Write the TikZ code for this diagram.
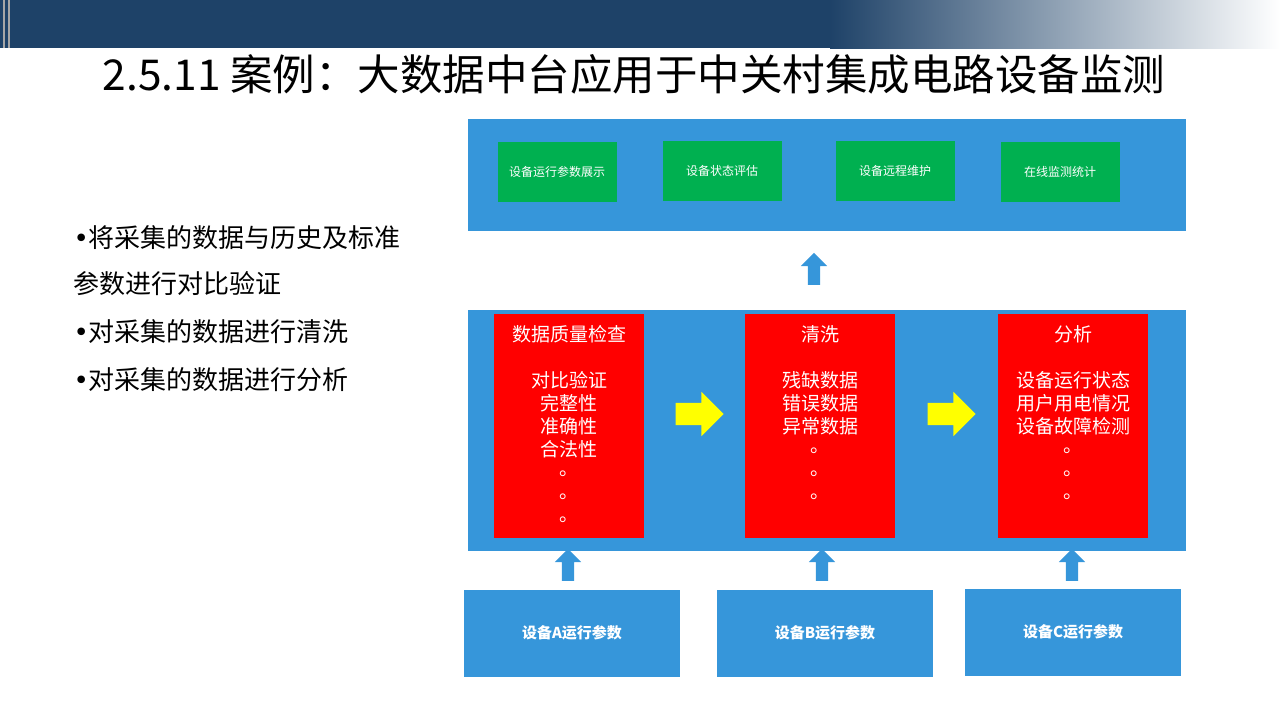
\documentclass[tikz,border=0pt]{standalone}
\usepackage{fontspec}
\setmainfont{Noto Sans CJK SC}
\newfontfamily\dotfont{DejaVu Sans}
\usetikzlibrary{shapes.arrows}
\definecolor{panelblue}{RGB}{54,150,218}
\definecolor{bannerblue}{RGB}{30,66,104}
\definecolor{boxgreen}{RGB}{0,176,80}
\definecolor{boxred}{RGB}{255,0,0}
\definecolor{arrowyellow}{RGB}{255,255,0}
\newcommand{\bul}{{\dotfont •}}
\tikzset{
    greenbox/.style={fill=boxgreen, draw=none, minimum width=119pt, minimum height=60pt,
        text=white, font=\fontsize{12}{14}\selectfont},
    redbox/.style={fill=boxred, draw=none, minimum width=150pt, minimum height=224pt,
        anchor=north west},
    redtext/.style={text=white, font=\fontsize{19}{23}\selectfont, align=center},
    srcbox/.style={fill=panelblue, draw=none, minimum width=216pt, minimum height=87pt,
        text=white, font=\bfseries\fontsize{15}{18}\selectfont},
    uparrow/.style={single arrow, fill=panelblue, draw=none, shape border rotate=90,
        minimum height=32pt, inner sep=6pt, single arrow head extend=7pt},
    rightarrow/.style={single arrow, fill=arrowyellow, draw=none,
        minimum height=48pt, inner sep=11pt, single arrow head extend=11pt},
    bullet/.style={anchor=west, font=\fontsize{26}{30}\selectfont}
}
\begin{document}
\begin{tikzpicture}[x=1pt,y=-1pt]
    \useasboundingbox (0,0) rectangle (1280,720);
    % banner
    \fill[bannerblue] (0,0) rectangle (830,48);
    \shade[left color=bannerblue, right color=white] (830,0) rectangle (1280,48);
    \fill[gray!70] (3,0) rectangle (5,48);
    \fill[gray!70] (8,0) rectangle (10,48);
    \node[font=\fontsize{42.5}{46}\selectfont] (title) at (634,74) {2.5.11 案例：大数据中台应用于中关村集成电路设备监测};

    % left bullets
    \node[bullet] (b1) at (70,238) {\bul 将采集的数据与历史及标准};
    \node[bullet] (b2) at (70,284) {参数进行对比验证};
    \node[bullet] (b3) at (70,332) {\bul 对采集的数据进行清洗};
    \node[bullet] (b4) at (70,380) {\bul 对采集的数据进行分析};

    % top panel
    \fill[panelblue] (468,119) rectangle (1186,231);
    \node[greenbox] (g1) at (557,172) {设备运行参数展示};
    \node[greenbox] (g2) at (722,171) {设备状态评估};
    \node[greenbox] (g3) at (895,171) {设备远程维护};
    \node[greenbox] (g4) at (1060,172) {在线监测统计};
    \node[uparrow] (up0) at (814,272) {};

    % middle panel
    \fill[panelblue] (468,310) rectangle (1186,551);
    \node[redbox] (r1) at (494,314) {};
    \node[redbox] (r2) at (745,314) {};
    \node[redbox] (r3) at (998,314) {};
    \foreach \r/\head/\items in {
        r1/数据质量检查/{对比验证\\完整性\\准确性\\合法性},
        r2/清洗/{残缺数据\\错误数据\\异常数据},
        r3/分析/{设备运行状态\\用户用电情况\\设备故障检测}} {
        \node[redtext] at ([yshift=-20pt]\r.north) {\head};
        \node[redtext, anchor=north] at ([yshift=-54pt]\r.north) {\items};
    }
    \foreach \y in {474,497,520} \node[redtext] at (569,\y) {。};
    \foreach \y in {451,474,497} {
        \node[redtext] at (820,\y) {。};
        \node[redtext] at (1073,\y) {。};
    }
    \node[rightarrow] (ra1) at (694,414) {};
    \node[rightarrow] (ra2) at (946,414) {};

    % sources
    \node[srcbox] (s1) at (572,633) {设备A运行参数};
    \node[srcbox] (s2) at (825,633) {设备B运行参数};
    \node[srcbox] (s3) at (1073,632) {设备C运行参数};
    \node[uparrow] (up1) at (568,568) {};
    \node[uparrow] (up2) at (822,568) {};
    \node[uparrow] (up3) at (1072,568) {};
\end{tikzpicture}
\end{document}
